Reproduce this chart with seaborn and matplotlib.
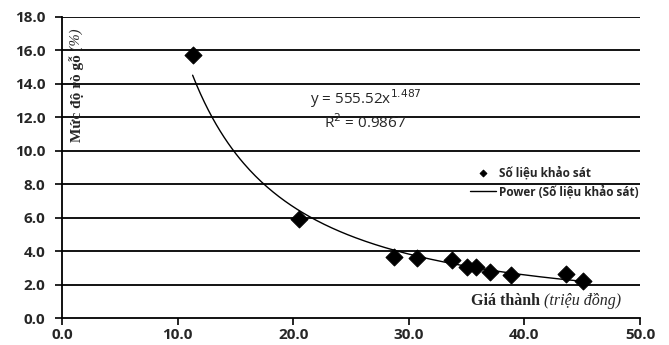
import numpy as np
import pandas as pd
import matplotlib
matplotlib.use("Agg")
import matplotlib.pyplot as plt
import seaborn as sns

# survey data
gia_thanh = [11.3, 20.5, 28.7, 30.7, 33.7, 35.0, 35.8, 37.0, 38.8, 43.6, 45.1]
muc_do = [15.75, 5.95, 3.65, 3.6, 3.45, 3.05, 3.05, 2.75, 2.6, 2.65, 2.2]

x_ticks = [0, 10, 20, 30, 40, 50]
y_ticks = [0, 2, 4, 6, 8, 10, 12, 14, 16, 18]

sns.set_theme(style="white")
plt.rcParams['font.family'] = ['Open Sans', 'DejaVu Sans']

serif = ["Liberation Serif", "DejaVu Serif"]

df = pd.DataFrame({"x": gia_thanh, "y": muc_do})

# power trendline fitted in log-log space
b, ln_a = np.polyfit(np.log(df["x"]), np.log(df["y"]), 1)
xs = np.linspace(min(gia_thanh), max(gia_thanh), 200)
trend = pd.DataFrame({"x": xs, "y": np.exp(ln_a) * xs ** b})

fig = plt.figure(figsize=(6.69, 3.45), dpi=100)
ax = fig.add_axes([62 / 669, 1 - 318 / 345, (640 - 62) / 669, (318 - 17) / 345])

for yv in y_ticks[1:]:
    ax.axhline(yv, color="black", lw=1.3, zorder=1)

sns.lineplot(data=trend, x="x", y="y", ax=ax, color="black", lw=1.0,
             label="Power (Số liệu khảo sát)", zorder=3)
sns.scatterplot(data=df, x="x", y="y", ax=ax, marker="D", s=75, color="black",
                edgecolor="black", label="Số liệu khảo sát", zorder=4)

ax.set_xlim(0, 50)
ax.set_ylim(0, 18)
ax.set_xticks(x_ticks)
ax.set_yticks(y_ticks)
ax.set_xticklabels([f"{v:.1f}" for v in x_ticks], fontsize=11, fontweight="bold")
ax.set_yticklabels([f"{v:.1f}" for v in y_ticks], fontsize=11, fontweight="bold")
ax.tick_params(axis="both", direction="out", length=5, width=1.2, color="black",
               bottom=True, left=True)
ax.tick_params(axis="y", pad=7)
ax.tick_params(axis="x", pad=2)
ax.set_xlabel("")
ax.set_ylabel("")
for side in ["top", "right"]:
    ax.spines[side].set_visible(False)
for side in ["left", "bottom"]:
    ax.spines[side].set_color("black")
    ax.spines[side].set_linewidth(1.3)

# axis titles sit inside the plot area
ty = ax.text(0.025, 0.585, "Mức độ rò gỗ", transform=ax.transAxes, rotation=90,
             ha="center", va="bottom", fontsize=11, fontweight="bold", family=serif)
ax.annotate(" (%)", xy=(0.5, 1), xycoords=ty, rotation=90, ha="center",
            va="bottom", fontsize=10.5, style="italic", family=serif)
tx = ax.text(0.707, 0.055, "Giá thành ", transform=ax.transAxes, ha="left",
             va="center", fontsize=11.5, fontweight="bold", family=serif)
ax.annotate("(triệu đồng)", xy=(1, 0.5), xycoords=tx, ha="left",
            va="center", fontsize=11.5, style="italic", family=serif)

ax.text(0.525, 0.728, r"y = 555.52x$^{1.487}$", transform=ax.transAxes,
        ha="center", va="center", fontsize=11)
ax.text(0.525, 0.648, r"R$^{2}$ = 0.9867", transform=ax.transAxes,
        ha="center", va="center", fontsize=11)

h, l = ax.get_legend_handles_labels()
ax.legend([h[1], h[0]], [l[1], l[0]], loc="upper left",
          bbox_to_anchor=(0.695, 0.525), frameon=False,
          handlelength=2.2, handletextpad=0.3, borderpad=0, labelspacing=0.45,
          markerscale=0.4, prop={"weight": "bold", "size": 8.5,
                                 "family": ["Open Sans", "DejaVu Sans"]})

fig.savefig("out.png", dpi=100)
